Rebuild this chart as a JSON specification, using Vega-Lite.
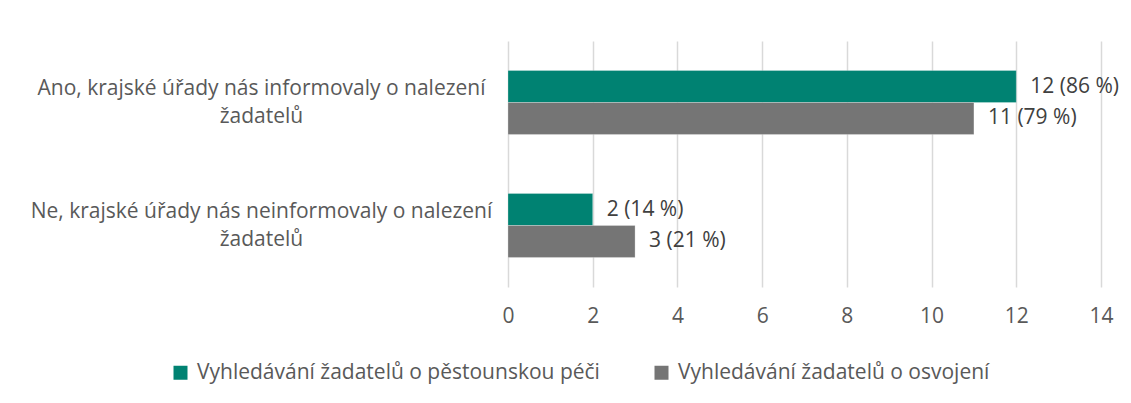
{
  "$schema": "https://vega.github.io/schema/vega-lite/v6.json",
  "width": 593,
  "height": 246,
  "autosize": {"type": "none"},
  "padding": {"left": 508, "top": 41, "right": 30, "bottom": 116},
  "background": "#ffffff",
  "config": {
    "view": {"stroke": null},
    "font": "Open Sans",
    "text": {"font": "Open Sans"}
  },
  "data": {
    "values": [
      {"kategorie": "Ano, krajské úřady nás informovaly o nalezení žadatelů", "serie": "Vyhledávání žadatelů o pěstounskou péči", "pocet": 12, "popisek": "12 (86 %)"},
      {"kategorie": "Ano, krajské úřady nás informovaly o nalezení žadatelů", "serie": "Vyhledávání žadatelů o osvojení", "pocet": 11, "popisek": "11 (79 %)"},
      {"kategorie": "Ne, krajské úřady nás neinformovaly o nalezení žadatelů", "serie": "Vyhledávání žadatelů o pěstounskou péči", "pocet": 2, "popisek": "2 (14 %)"},
      {"kategorie": "Ne, krajské úřady nás neinformovaly o nalezení žadatelů", "serie": "Vyhledávání žadatelů o osvojení", "pocet": 3, "popisek": "3 (21 %)"}
    ]
  },
  "encoding": {
    "y": {
      "field": "kategorie",
      "type": "nominal",
      "sort": null,
      "scale": {"paddingInner": 0.48, "paddingOuter": 0.24},
      "axis": {
        "title": null,
        "domain": false,
        "ticks": false,
        "grid": false,
        "labelAlign": "center",
        "labelBaseline": "middle",
        "labelPadding": 247,
        "labelOffset": -14,
        "labelLimit": 600,
        "labelFont": "Open Sans",
        "labelFontSize": 21,
        "labelColor": "#595959",
        "labelLineHeight": 28,
        "labelExpr": "[replace(datum.label, ' žadatelů', ''), 'žadatelů']"
      }
    },
    "yOffset": {"field": "serie", "type": "nominal", "sort": null, "scale": {"paddingInner": 0, "paddingOuter": 0}},
    "x": {
      "field": "pocet",
      "type": "quantitative",
      "scale": {"domain": [0, 14], "nice": false},
      "axis": {
        "title": null,
        "values": [0, 2, 4, 6, 8, 10, 12, 14],
        "domain": false,
        "ticks": false,
        "grid": true,
        "gridColor": "#D9D9D9",
        "gridWidth": 1.5,
        "labelFlush": false,
        "labelPadding": 18,
        "labelFont": "Open Sans",
        "labelFontSize": 21,
        "labelColor": "#595959"
      }
    }
  },
  "layer": [
    {
      "mark": {"type": "bar", "stroke": "#ffffff", "strokeWidth": 0.5, "strokeOpacity": 0.5},
      "encoding": {
        "color": {
          "field": "serie",
          "type": "nominal",
          "sort": null,
          "scale": {
            "domain": ["Vyhledávání žadatelů o pěstounskou péči", "Vyhledávání žadatelů o osvojení"],
            "range": ["#008272", "#757575"]
          },
          "legend": {
            "title": null,
            "orient": "none",
            "legendX": -338,
            "legendY": 321,
            "direction": "horizontal",
            "symbolType": "square",
            "symbolSize": 196,
            "symbolStrokeWidth": 0,
            "labelFont": "Open Sans",
            "labelFontSize": 21,
            "labelColor": "#595959",
            "labelOffset": 6,
            "columnPadding": 51,
            "labelLimit": 600
          }
        }
      }
    },
    {
      "mark": {"type": "text", "align": "left", "baseline": "middle", "dx": 14, "font": "Open Sans", "fontSize": 21, "color": "#404040"},
      "encoding": {"text": {"field": "popisek", "type": "nominal"}}
    }
  ]
}
